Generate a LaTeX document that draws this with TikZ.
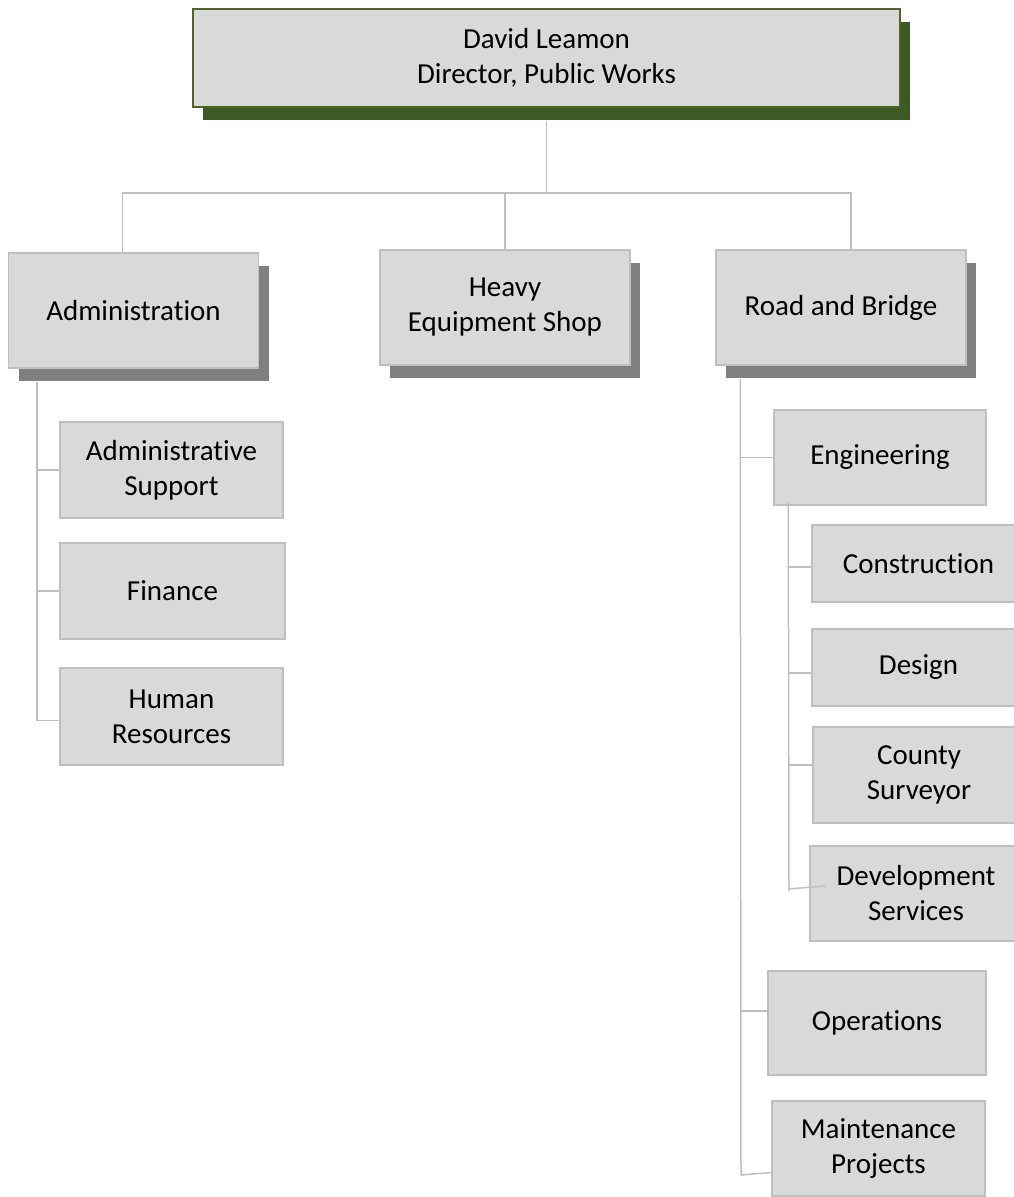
\documentclass[tikz,border=0pt]{standalone}
\usepackage{fontspec}
\setmainfont{Carlito}[Ligatures=NoCommon]
\usetikzlibrary{shadows}

\definecolor{boxgray}{HTML}{D9D9D9}
\definecolor{linegray}{HTML}{BFBFBF}
\definecolor{shadegray}{HTML}{7F7F7F}
\definecolor{headgreen}{HTML}{4F6228}
\definecolor{shadegreen}{HTML}{3B5A24}

\tikzset{
    orgbox/.style={draw=linegray, line width=1.5pt, fill=boxgray, inner sep=0pt,
        align=center, font=\fontsize{29}{35}\selectfont},
    unitbox/.style={orgbox, minimum width=250pt, minimum height=115pt,
        drop shadow={shadow xshift=10pt, shadow yshift=-13pt, fill=shadegray, opacity=1}},
    headbox/.style={orgbox, draw=headgreen, minimum width=707pt, minimum height=98pt,
        drop shadow={shadow xshift=10pt, shadow yshift=-13pt, fill=shadegreen, opacity=1}},
    link/.style={draw=linegray, line width=1.5pt}
}

\begin{document}
\begin{tikzpicture}[x=1pt, y=-1pt]
    \clip (0,0) rectangle (1014,1197);
    \useasboundingbox (0,0) rectangle (1014,1197);

    % director
    \node[headbox] (boss) at (546.5,58) {David Leamon\\Director, Public Works};

    % divisions
    \node[unitbox] (adm) at (133.5,310.5) {Administration};
    \node[unitbox] (shop) at (505,307.5) {Heavy\\Equipment Shop};
    \node[unitbox] (road) at (841,307.5) {Road and Bridge};

    % administration
    \node[orgbox, minimum width=223pt, minimum height=96pt] (sup) at (171.5,470) {Administrative\\Support};
    \node[orgbox, minimum width=225pt, minimum height=96pt] (fin) at (172.5,591) {Finance};
    \node[orgbox, minimum width=223pt, minimum height=97pt] (hr) at (171.5,716.5) {Human\\Resources};

    % road and bridge
    \node[orgbox, minimum width=212pt, minimum height=95pt] (eng) at (880,457.5) {Engineering};
    \node[orgbox, minimum width=213pt, minimum height=77pt] (cons) at (918.5,563.5) {Construction};
    \node[orgbox, minimum width=213pt, minimum height=77pt] (des) at (918.5,667.5) {Design};
    \node[orgbox, minimum width=212pt, minimum height=96pt] (cnty) at (919,775) {County\\Surveyor};
    \node[orgbox, minimum width=212pt, minimum height=95pt] (dev) at (916,893.5) {Development\\Services};
    \node[orgbox, minimum width=218pt, minimum height=104pt] (ops) at (877,1023) {Operations};
    \node[orgbox, minimum width=213pt, minimum height=95pt] (mnt) at (878.5,1148.5) {Maintenance\\Projects};

    % connectors
    \coordinate (bus) at (546.5,193);
    \coordinate (engEnd) at (789,891);
    \coordinate (roadEnd) at (741,1175);
    \draw[link] ([yshift=-13pt]boss.south) -- (bus);
    \draw[link] ([xshift=-11pt]adm.north) |- (bus);
    \draw[link] ([xshift=10pt]road.north) |- (bus);
    \draw[link] (shop.north) -- (shop.north |- bus);

    \draw[link] ([xshift=29pt,yshift=-13pt]adm.south west) |- ([yshift=-4pt]hr.west);
    \draw[link] (sup.west) -- ++(-22,0);
    \draw[link] (fin.west) -- ++(-22,0);

    \draw[link] ([xshift=25pt,yshift=-13pt]road.south west) -- (roadEnd) -- ([yshift=-24pt]mnt.west);
    \draw[link] (eng.west) -- ++(-33,0);
    \draw[link] ([yshift=12pt]ops.west) -- ++(-27,0);

    \draw[link] ([xshift=15pt,yshift=3pt]eng.south west) -- (engEnd);
    \draw[link] ([yshift=-3.5pt]cons.west) -- ++(-23,0);
    \draw[link] ([yshift=-5.5pt]des.west) -- ++(-23,0);
    \draw[link] ([yshift=10pt]cnty.west) -- ++(-24,0);
    \draw[link] ([xshift=-1pt,yshift=2pt]engEnd) -- ([xshift=16pt,yshift=7.5pt]dev.west);
\end{tikzpicture}
\end{document}
